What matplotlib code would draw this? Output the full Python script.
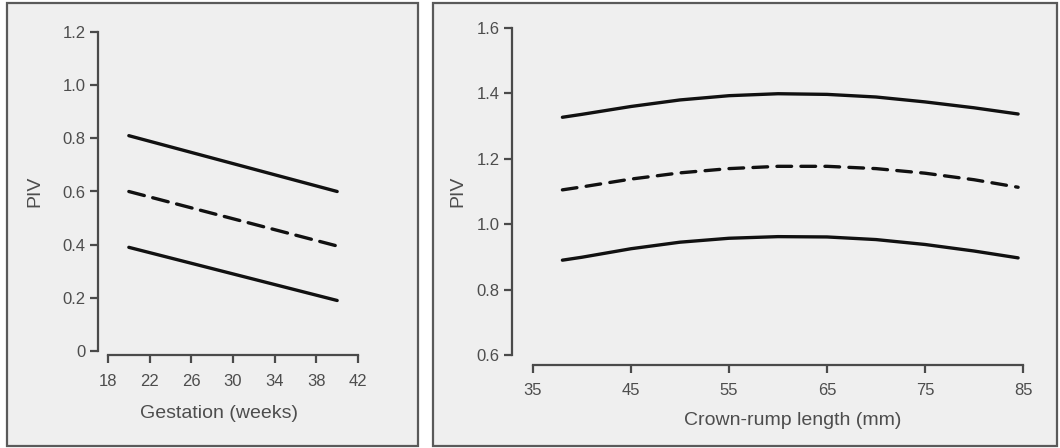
import matplotlib.pyplot as plt
from matplotlib.patches import Rectangle

plt.rcParams['font.family'] = ['Liberation Sans', 'DejaVu Sans']

# left panel: gestation (weeks)
ga_weeks = [20, 40]
ga_upper = [0.81, 0.60]
ga_mean = [0.60, 0.395]
ga_lower = [0.39, 0.19]
ga_xticks = [18, 22, 26, 30, 34, 38, 42]
ga_yticks = [0, 0.2, 0.4, 0.6, 0.8, 1.0, 1.2]
ga_ylabels = ['0', '0.2', '0.4', '0.6', '0.8', '1.0', '1.2']

# right panel: crown-rump length (mm)
crl_mm = [38, 40, 45, 50, 55, 60, 65, 70, 75, 80, 84.5]
crl_upper = [1.327, 1.336, 1.360, 1.380, 1.393, 1.399, 1.397, 1.389, 1.374, 1.356, 1.337]
crl_mean = [1.105, 1.114, 1.138, 1.157, 1.170, 1.177, 1.177, 1.170, 1.156, 1.136, 1.113]
crl_lower = [0.890, 0.899, 0.925, 0.945, 0.957, 0.962, 0.961, 0.953, 0.938, 0.918, 0.897]
crl_xticks = [35, 45, 55, 65, 75, 85]
crl_yticks = [0.6, 0.8, 1.0, 1.2, 1.4, 1.6]

W, H = 1060, 448
fig = plt.figure(figsize=(W / 100, H / 100), dpi=100)
fig.patch.set_facecolor('white')

bg = '#efefef'
txt = '#4d4d4d'
spine_c = '#4a4a4a'

# panel frames
for x0, x1 in [(7, 418), (433, 1057)]:
    fig.patches.append(Rectangle((x0 / W, 1 - 446 / H), (x1 - x0) / W, 443 / H,
                                 transform=fig.transFigure, facecolor=bg,
                                 edgecolor='#5a5a5a', linewidth=1.6, zorder=-5))


def px_axes(x0, x1, ytop, ybot):
    return fig.add_axes([x0 / W, 1 - ybot / H, (x1 - x0) / W, (ybot - ytop) / H])


def style(ax, left_off, bot_off):
    ax.set_facecolor('none')
    for s in ['top', 'right']:
        ax.spines[s].set_visible(False)
    ax.spines['left'].set_position(('outward', left_off))
    ax.spines['bottom'].set_position(('outward', bot_off))
    for s in ['left', 'bottom']:
        ax.spines[s].set_color(spine_c)
        ax.spines[s].set_linewidth(1.6)
    ax.tick_params(colors=spine_c, labelcolor=txt, width=1.6, length=6,
                   labelsize=12)
    ax.tick_params(axis='x', pad=7.5)
    ax.tick_params(axis='y', pad=3)


line_kw = dict(color='#111111', lw=2.4, solid_capstyle='round', dash_capstyle='round')

ax1 = px_axes(108, 358, 32, 351)
style(ax1, 7, 3)
ax1.plot(ga_weeks, ga_upper, **line_kw)
ax1.plot(ga_weeks, ga_mean, dashes=(4.8, 2.6), **line_kw)
ax1.plot(ga_weeks, ga_lower, **line_kw)
ax1.set_xlim(18, 42)
ax1.set_ylim(0, 1.2)
ax1.set_xticks(ga_xticks)
ax1.set_yticks(ga_yticks)
ax1.set_yticklabels(ga_ylabels)
ax1.set_xlabel('Gestation (weeks)', fontsize=14, color=txt)
ax1.xaxis.set_label_coords(0.444, -(413 - 351) / 319, transform=ax1.transAxes)
ax1.xaxis.label.set_va('center')
ax1.set_ylabel('PIV', fontsize=14, color=txt, labelpad=14)

ax2 = px_axes(533, 1023, 28, 355)
style(ax2, 15, 7)
ax2.plot(crl_mm, crl_upper, **line_kw)
ax2.plot(crl_mm, crl_mean, dashes=(4.4, 2.8), **line_kw)
ax2.plot(crl_mm, crl_lower, **line_kw)
ax2.set_xlim(35, 85)
ax2.set_ylim(0.6, 1.6)
ax2.set_xticks(crl_xticks)
ax2.set_yticks(crl_yticks)
ax2.set_xlabel('Crown-rump length (mm)', fontsize=14, color=txt)
ax2.xaxis.set_label_coords(0.529, -(420 - 355) / 327, transform=ax2.transAxes)
ax2.xaxis.label.set_va('center')
ax2.set_ylabel('PIV', fontsize=14, color=txt, labelpad=7)

fig.savefig('out.png', dpi=100, facecolor=fig.get_facecolor())
